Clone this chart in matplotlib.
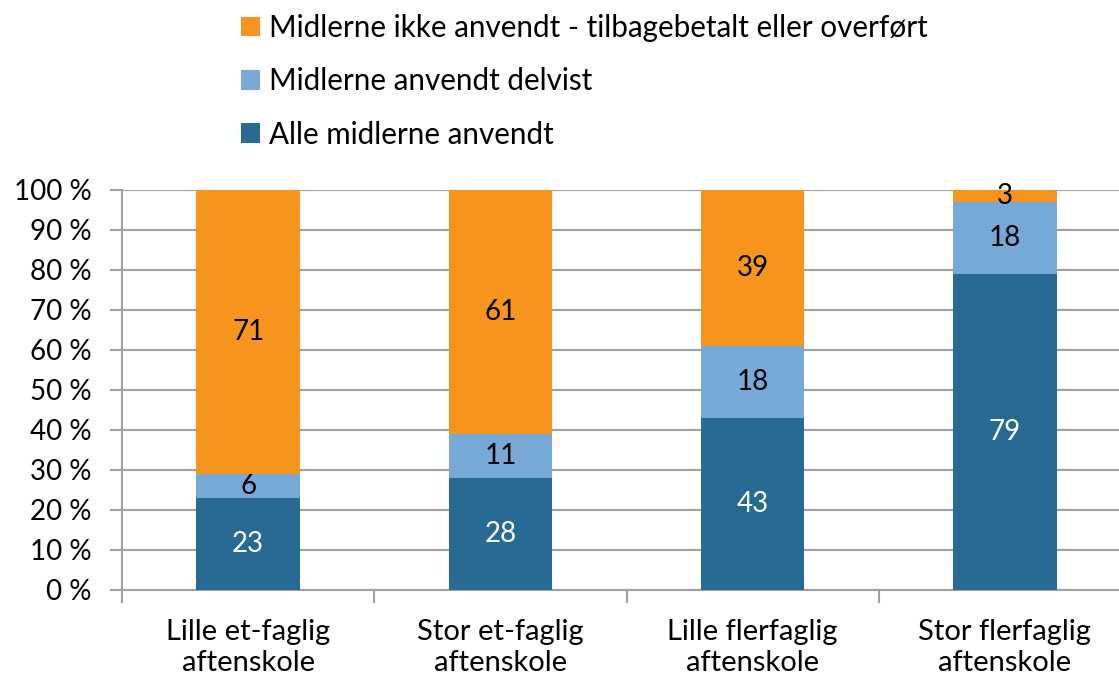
import matplotlib
matplotlib.use("Agg")
import matplotlib.pyplot as plt
import numpy as np

categories = ["Lille et-faglig\naftenskole", "Stor et-faglig\naftenskole",
              "Lille flerfaglig\naftenskole", "Stor flerfaglig\naftenskole"]
alle = [23, 28, 43, 79]
delvist = [6, 11, 18, 18]
ikke = [71, 61, 39, 3]
series_names = ["Alle midlerne anvendt", "Midlerne anvendt delvist",
                "Midlerne ikke anvendt - tilbagebetalt eller overført"]
yticks = [0, 10, 20, 30, 40, 50, 60, 70, 80, 90, 100]
ytick_labels = [f"{v} %" for v in yticks]

plt.rcParams['font.family'] = ['Lato', 'DejaVu Sans']
FS = 20

W, H = 1119, 682
fig = plt.figure(figsize=(W / 100, H / 100), dpi=100)
ax = fig.add_axes([122 / W, (H - 590) / H, (1131 - 122) / W, 400 / H])

colors = ["#276A93", "#77A9D7", "#F7941D"]
txtcol = ["white", "black", "black"]
x = np.arange(len(categories))
bottom = np.zeros(len(categories))
handles = []
for vals, c, tc, name in zip([alle, delvist, ikke], colors, txtcol, series_names):
    bars = ax.bar(x, vals, width=0.41, bottom=bottom, color=c, label=name, zorder=3)
    handles.append(bars)
    ax.bar_label(bars, labels=[str(v) for v in vals], label_type='center',
                 color=tc, fontsize=FS)
    bottom += np.array(vals)

ax.set_xlim(-0.5, len(categories) - 0.5)
ax.set_ylim(0, 100)
ax.set_yticks(yticks)
ax.set_yticklabels(ytick_labels, fontsize=FS)
ax.set_xticks(x)
ax.set_xticklabels(categories, fontsize=21, linespacing=1.25)
ax.tick_params(axis='x', length=0, pad=21)
ax.set_xticks(np.arange(-0.5, len(categories), 1.0), minor=True)
ax.tick_params(axis='x', which='minor', length=9, width=1.5, color="#A0A0A0", direction='out')
ax.tick_params(axis='y', length=9, width=1.5, color="#A0A0A0", pad=13)
ax.grid(axis='y', color="#A0A0A0", linewidth=1.5, zorder=0)
for s in ['top', 'right']:
    ax.spines[s].set_visible(False)
for s in ['left', 'bottom']:
    ax.spines[s].set_color("#A0A0A0")
    ax.spines[s].set_linewidth(1.5)

leg = fig.legend(handles[::-1], series_names[::-1], loc='upper left',
                 bbox_to_anchor=(229 / W, 1 - 2 / H), frameon=False, fontsize=21.3,
                 handlelength=0.65, handleheight=0.65, handletextpad=0.3,
                 labelspacing=0.86, borderaxespad=0)

fig.savefig("out.png", dpi=100)
